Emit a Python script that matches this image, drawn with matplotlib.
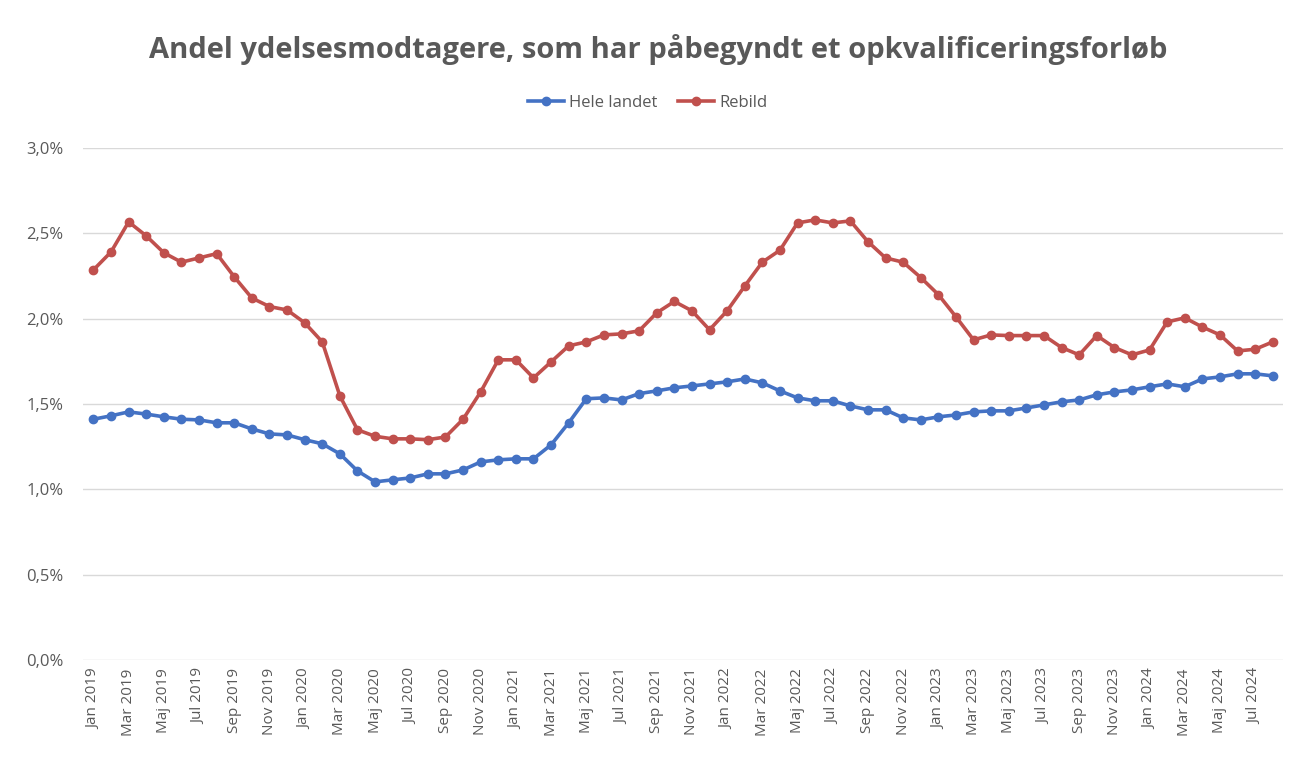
import matplotlib
matplotlib.use("Agg")
import matplotlib.pyplot as plt
from matplotlib.ticker import FuncFormatter, MultipleLocator

MONTHS = ["Jan", "Feb", "Mar", "Apr", "Maj", "Jun", "Jul", "Aug", "Sep", "Okt", "Nov", "Dec"]
months = [f"{MONTHS[i % 12]} {2019 + i // 12}" for i in range(68)]

hele_landet = [
    1.41, 1.43, 1.453, 1.44, 1.424, 1.41, 1.406, 1.389, 1.389, 1.353, 1.324, 1.318,
    1.29, 1.266, 1.207, 1.107, 1.043, 1.055, 1.066, 1.09, 1.09, 1.113, 1.16, 1.172,
    1.178, 1.178, 1.26, 1.389, 1.53, 1.535, 1.523, 1.56, 1.576, 1.594, 1.605, 1.617,
    1.629, 1.646, 1.623, 1.576, 1.535, 1.518, 1.518, 1.488, 1.465, 1.465, 1.418, 1.406,
    1.424, 1.435, 1.453, 1.459, 1.459, 1.476, 1.494, 1.512, 1.523, 1.553, 1.57, 1.582,
    1.60, 1.617, 1.60, 1.646, 1.658, 1.676, 1.676, 1.664,
]
rebild = [
    2.285, 2.39, 2.566, 2.484, 2.385, 2.33, 2.355, 2.38, 2.244, 2.12, 2.07, 2.05,
    1.975, 1.863, 1.547, 1.348, 1.31, 1.295, 1.295, 1.29, 1.306, 1.41, 1.57, 1.758,
    1.758, 1.652, 1.746, 1.84, 1.863, 1.904, 1.91, 1.928, 2.033, 2.10, 2.045, 1.934,
    2.045, 2.19, 2.33, 2.40, 2.56, 2.578, 2.56, 2.572, 2.45, 2.355, 2.33, 2.24,
    2.14, 2.01, 1.875, 1.904, 1.90, 1.90, 1.90, 1.83, 1.787, 1.90, 1.83, 1.787,
    1.816, 1.98, 2.004, 1.95, 1.904, 1.81, 1.82, 1.863,
]

GREY = "#595959"
plt.rcParams["font.family"] = ["Open Sans", "DejaVu Sans"]

fig = plt.figure(figsize=(12.95, 7.62), dpi=100)
ax = fig.add_axes([0.064, 0.134, 0.927, 0.672])

x = range(len(months))
ax.plot(x, hele_landet, color="#4472C4", lw=2.6, marker="o", ms=6, label="Hele landet")
ax.plot(x, rebild, color="#C0504D", lw=2.6, marker="o", ms=6, label="Rebild")

ax.set_ylim(0, 3.0)
ax.set_xlim(-0.6, 67.6)
ax.yaxis.set_major_locator(MultipleLocator(0.5))
ax.yaxis.set_major_formatter(FuncFormatter(lambda v, _: f"{v:.1f}%".replace(".", ",")))
ax.grid(axis="y", color="#d9d9d9", lw=1)
ax.set_axisbelow(True)
for s in ax.spines.values():
    s.set_visible(False)

ax.set_xticks(list(x)[::2])
ax.set_xticklabels(months[::2], rotation=90)
ax.tick_params(length=0, labelcolor=GREY)
ax.tick_params(axis="y", pad=14, labelsize=12)
ax.tick_params(axis="x", pad=6, labelsize=11)

fig.suptitle("Andel ydelsesmodtagere, som har påbegyndt et opkvalificeringsforløb",
             x=0.508, y=0.955, fontsize=21, fontweight="bold", color=GREY)
fig.legend(loc="center", bbox_to_anchor=(0.5, 0.865), ncol=2, frameon=False,
           fontsize=12, labelcolor=GREY, handlelength=2.2, columnspacing=1.2, handletextpad=0.3)

fig.savefig("out.png", dpi=100)
